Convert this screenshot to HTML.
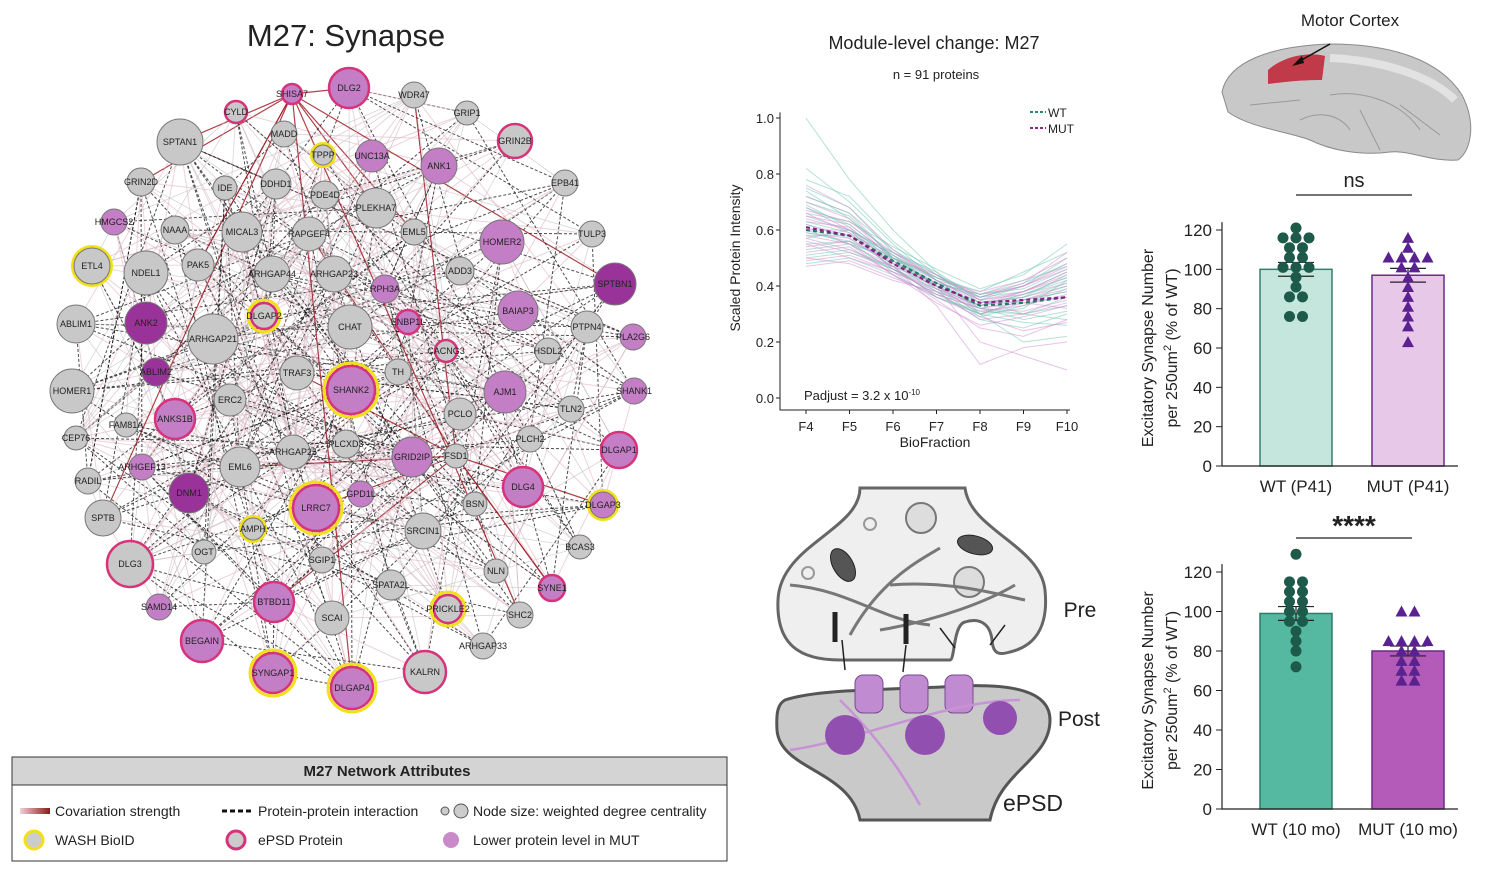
<!DOCTYPE html>
<html><head><meta charset="utf-8"><style>
html,body{margin:0;padding:0;background:#fff;}
svg{display:block;font-family:"Liberation Sans",Arial,sans-serif;}
</style></head><body>
<svg id="root" width="1511" height="869" viewBox="0 0 1511 869" xmlns="http://www.w3.org/2000/svg">
<text x="346" y="46" font-size="31" text-anchor="middle" fill="#222">M27: Synapse</text>
<g id="edges"></g>
<g id="nodes"></g>

<g>
<rect x="12" y="757" width="715" height="104" fill="#fff" stroke="#333" stroke-width="1"/>
<rect x="12" y="757" width="715" height="28" fill="#d4d4d4" stroke="#333" stroke-width="1"/>
<text x="387" y="776" font-size="15" font-weight="bold" text-anchor="middle" fill="#222">M27 Network Attributes</text>
<defs><linearGradient id="cg" x1="0" x2="1"><stop offset="0" stop-color="#f0d0d8"/><stop offset="1" stop-color="#8b1a1a"/></linearGradient></defs>
<rect x="20" y="808" width="30" height="6" fill="url(#cg)"/>
<text x="55" y="816" font-size="14" fill="#222">Covariation strength</text>
<line x1="222" y1="811" x2="252" y2="811" stroke="#111" stroke-width="3" stroke-dasharray="5,3"/>
<text x="258" y="816" font-size="14" fill="#222">Protein-protein interaction</text>
<circle cx="445" cy="811" r="4" fill="#ccc" stroke="#555"/>
<circle cx="461" cy="811" r="7" fill="#ccc" stroke="#555"/>
<text x="473" y="816" font-size="14" fill="#222">Node size: weighted degree centrality</text>
<circle cx="34" cy="840" r="9" fill="#ccc" stroke="#f2e01a" stroke-width="3"/>
<text x="55" y="845" font-size="14" fill="#222">WASH BioID</text>
<circle cx="236" cy="840" r="9" fill="#ccc" stroke="#d6337a" stroke-width="3"/>
<text x="258" y="845" font-size="14" fill="#222">ePSD Protein</text>
<circle cx="451" cy="840" r="8" fill="#c98ac9"/>
<text x="473" y="845" font-size="14" fill="#222">Lower protein level in MUT</text>
</g>

<g id="lc">
<text x="934" y="49" font-size="18" text-anchor="middle" fill="#222">Module-level change: M27</text>
<text x="936" y="79" font-size="13" text-anchor="middle" fill="#222">n = 91 proteins</text>
<text transform="translate(740,258) rotate(-90)" font-size="14" text-anchor="middle" fill="#222">Scaled Protein Intensity</text>
<text x="935" y="447" font-size="14" text-anchor="middle" fill="#222">BioFraction</text>
<text x="804" y="400" font-size="13" fill="#222">Padjust = 3.2 x 10<tspan dy="-5" font-size="8">-10</tspan></text>
<line x1="1030" y1="112" x2="1046" y2="112" stroke="#2a8a74" stroke-width="2" stroke-dasharray="3,2"/>
<text x="1048" y="117" font-size="12" fill="#222">WT</text>
<line x1="1030" y1="128" x2="1046" y2="128" stroke="#8a2a8a" stroke-width="2" stroke-dasharray="3,2"/>
<text x="1048" y="133" font-size="12" fill="#222">MUT</text>
</g>

<g>
<text x="1350" y="26" font-size="17" text-anchor="middle" fill="#222">Motor Cortex</text>
<path d="M1222,92 C1228,62 1270,46 1330,44 C1392,44 1440,60 1462,95 C1476,122 1472,150 1458,160 C1430,162 1410,150 1390,152 C1360,156 1330,150 1310,140 C1290,132 1250,128 1228,112 Z" fill="#c8c8c8" stroke="#8a8a8a"/>
<path d="M1330,95 C1360,90 1400,100 1420,130 M1360,110 L1380,150 M1300,120 C1320,110 1340,115 1350,130 M1400,105 L1440,135 M1250,105 L1300,100" fill="none" stroke="#999" stroke-width="1"/>
<path d="M1268,70 C1285,55 1310,52 1325,56 L1322,80 C1300,80 1285,82 1268,84 Z" fill="#c03a4a"/>
<path d="M1330,58 C1380,60 1430,75 1455,100" fill="none" stroke="#e2e2e2" stroke-width="8"/>
<line x1="1330" y1="44" x2="1298" y2="62" stroke="#111" stroke-width="1.5"/>
<path d="M1292,66 L1302,56 L1304,63 Z" fill="#111"/>
</g>

<g>
<path d="M860,488 C860,530 780,545 778,600 C776,645 800,660 840,660 L950,660 C955,660 953,625 965,622 C978,618 990,622 992,640 C993,655 1000,655 1010,652 C1040,645 1048,620 1045,590 C1040,545 970,530 965,488 Z" fill="#efefef" stroke="#666" stroke-width="3"/>
<path d="M785,700 C820,688 900,690 960,686 C1010,684 1050,690 1050,720 C1050,760 1000,770 990,820 L860,820 C850,770 780,770 777,730 C776,712 778,704 785,700 Z" fill="#c9c9ca" stroke="#555" stroke-width="3"/>
<circle cx="870" cy="524" r="6" fill="none" stroke="#999" stroke-width="2"/>
<circle cx="808" cy="573" r="6" fill="none" stroke="#999" stroke-width="2"/>
<circle cx="921" cy="518" r="15" fill="#ddd" stroke="#777" stroke-width="2"/>
<circle cx="969" cy="582" r="15" fill="#ddd" stroke="#777" stroke-width="2"/>
<ellipse cx="843" cy="565" rx="10" ry="18" transform="rotate(-30 843 565)" fill="#555" stroke="#222"/>
<ellipse cx="975" cy="545" rx="18" ry="9" transform="rotate(15 975 545)" fill="#555" stroke="#222"/>
<path d="M790,585 C850,590 880,620 930,625 M850,635 C880,580 920,560 940,548 M890,585 C950,580 1000,595 1025,600 M880,630 C940,620 990,600 1015,585" fill="none" stroke="#777" stroke-width="3"/>
<path d="M835,612 l0,30 M906,614 l0,30" stroke="#222" stroke-width="5"/>
<path d="M842,640 l3,30 M906,645 l-3,27 M940,628 l15,20 M1005,625 l-15,20" stroke="#222" stroke-width="1.5"/>
<g fill="#c08bd0" stroke="#7a4a90"><rect x="855" y="675" width="28" height="38" rx="8"/><rect x="900" y="675" width="28" height="38" rx="8"/><rect x="945" y="675" width="28" height="38" rx="8"/></g>
<path d="M790,750 C860,740 950,700 1020,700 M840,700 C880,740 900,770 920,805" fill="none" stroke="#c892d6" stroke-width="2.5"/>
<g fill="#9150b0"><circle cx="845" cy="735" r="20"/><circle cx="925" cy="735" r="20"/><circle cx="1000" cy="718" r="17"/></g>
<text x="1080" y="617" font-size="21" text-anchor="middle" fill="#222">Pre</text>
<text x="1079" y="726" font-size="21" text-anchor="middle" fill="#222">Post</text>
<text x="1033" y="811" font-size="23" text-anchor="middle" fill="#222">ePSD</text>
</g>

<g id="bars"></g>
</svg>
<script>
const nodeNames=["SHISA7","DLG2","WDR47","CYLD","GRIP1","MADD","SPTAN1","TPPP","UNC13A","GRIN2B","ANK1","GRIN2D","IDE","DDHD1","PDE4D","EPB41","PLEKHA7","HMGCS2","NAAA","MICAL3","RAPGEF4","EML5","TULP3","HOMER2","ETL4","NDEL1","PAK5","ARHGAP44","ARHGAP23","ADD3","SPTBN1","RPH3A","ABLIM1","ANK2","DLGAP2","CHAT","BAIAP3","PTPN4","ENBP1L","PLA2G6","ARHGAP21","CACNG3","HSDL2","ABLIM2","HOMER1","TRAF3","TH","SHANK2","AJM1","SHANK1","ERC2","ANKS1B","TLN2","FAM81A","PCLO","CEP76","PLCXD3","PLCH2","ARHGAP25","DLGAP1","GRID2IP","FSD1","ARHGEF13","EML6","RADIL","GPD1L","DNM1","DLG4","BSN","LRRC7","DLGAP3","SPTB","AMPH","SRCIN1","BCAS3","OGT","DLG3","SGIP1","NLN","SYNE1","SPATA2L","SAMD14","PRICKLE2","BTBD11","SHC2","SCAI","BEGAIN","ARHGAP33","SYNGAP1","KALRN","DLGAP4"];
const nodeX=[292,349,414,236,467,284,180,323,372,515,439,141,225,276,325,565,376,114,175,242,309,414,592,502,92,146,198,272,334,460,615,385,76,146,264,350,518,587,408,633,213,446,548,156,72,297,398,351,505,634,230,175,571,126,460,76,346,530,293,619,412,456,142,240,88,361,189,523,475,316,603,103,253,423,580,204,130,322,496,552,391,159,448,274,520,332,202,483,273,425,352];
const nodeY=[94,88,95,112,113,134,142,155,156,141,166,182,188,184,195,183,208,222,230,232,234,232,234,242,266,273,265,274,274,271,284,289,324,323,316,327,311,327,322,337,339,351,351,372,391,373,372,390,392,391,400,419,409,425,414,438,444,439,452,450,457,456,467,467,481,494,493,487,504,508,505,518,529,531,547,552,564,560,571,588,585,607,609,602,615,618,641,646,673,672,688];
const nodeR=[10,20,13,11,12,13,23,10,16,17,18,14,12,15,14,13,20,13,14,20,17,13,13,22,18,22,16,18,18,14,21,14,19,21,13,22,20,16,12,13,25,11,13,14,22,17,13,24,21,13,16,20,13,12,16,12,14,13,17,18,20,12,13,20,13,13,20,20,12,23,13,18,11,18,12,12,23,13,12,13,15,13,14,20,13,17,21,13,20,21,21];
const fixFill={SHISA7:"p",DLG2:"p",UNC13A:"p",ANK1:"p",HMGCS2:"p",HOMER2:"p",SPTBN1:"d",RPH3A:"p",ANK2:"d",BAIAP3:"p",ENBP1L:"p",PLA2G6:"p",ABLIM2:"d",SHANK2:"p",AJM1:"p",SHANK1:"p",ANKS1B:"p",DLGAP1:"p",GRID2IP:"p",ARHGEF13:"p",GPD1L:"p",DNM1:"d",DLG4:"p",LRRC7:"p",DLGAP3:"p",SYNE1:"p",SAMD14:"p",BTBD11:"p",BEGAIN:"p",SYNGAP1:"p",DLGAP4:"p"};
const fixRing={SHISA7:"k",DLG2:"k",CYLD:"k",TPPP:"y",GRIN2B:"k",ETL4:"y",DLGAP2:"b",ENBP1L:"k",CACNG3:"k",SHANK2:"b",ANKS1B:"k",DLGAP1:"k",DLG4:"k",LRRC7:"b",DLGAP3:"y",AMPH:"y",DLG3:"k",SYNE1:"k",PRICKLE2:"b",BTBD11:"k",BEGAIN:"k",SYNGAP1:"b",KALRN:"k",DLGAP4:"b"};
const SVGNS="http://www.w3.org/2000/svg";
function mk(tag,attrs,parent){const e=document.createElementNS(SVGNS,tag);for(const k in attrs)e.setAttribute(k,attrs[k]);parent.appendChild(e);return e;}
const gE=document.getElementById('edges'),gN=document.getElementById('nodes');
const N=nodeNames.length;
const steps=[3,7,11,19,29,41];
for(let i=0;i<N;i++){for(let s=0;s<steps.length;s++){const j=(i*steps[s]+s*5+1)%N;if(j===i)continue;
  const t=(i+j+s)%5;let st;
  if(t<=1)st={stroke:"#111","stroke-width":1,"stroke-dasharray":"3,2",opacity:0.75};
  else if(t===2||t===3)st={stroke:"#dcb0c0","stroke-width":1,opacity:0.55};
  else st={stroke:"#bbb","stroke-width":0.8,opacity:0.6};
  if((i*j)%61===0)st={stroke:"#a0202a","stroke-width":1.2,opacity:0.85};
  const l=mk('line',Object.assign({x1:nodeX[i],y1:nodeY[i],x2:nodeX[j],y2:nodeY[j]},st),gE);
  
  
}}
const fillCol={g:"#c8c8c8",p:"#c47ec6",d:"#9a3399"};
for(let i=0;i<N;i++){
  const nm=nodeNames[i];const f=fixFill[nm]||"g";const r=fixRing[nm]||"n";
  const g=mk('g',{},gN);
  
  
  if(r==="y"||r==="b")mk('circle',{cx:nodeX[i],cy:nodeY[i],r:nodeR[i]+(r==="b"?3:1.5),fill:"none",stroke:"#f2e01a","stroke-width":3},g);
  mk('circle',{cx:nodeX[i],cy:nodeY[i],r:nodeR[i],fill:fillCol[f],stroke:(r==="k"||r==="b")?"#d6337a":"#777","stroke-width":(r==="k"||r==="b")?2.5:1},g);
  const t=mk('text',{x:nodeX[i],y:nodeY[i]+3,"font-size":9,"text-anchor":"middle",fill:"#222"},g);
  t.textContent=nm;
}
const fractions=["F4","F5","F6","F7","F8","F9","F10"];
const yTicks=[0.0,0.2,0.4,0.6,0.8,1.0];
const wtMean=[0.60,0.58,0.49,0.41,0.33,0.34,0.36];
const mutMean=[0.61,0.58,0.48,0.40,0.34,0.35,0.36];
const wtLines=[[1.0,0.78,0.6,0.45,0.3,0.32,0.42],[0.82,0.7,0.55,0.42,0.35,0.4,0.5],[0.7,0.65,0.5,0.4,0.3,0.35,0.38],[0.65,0.6,0.48,0.38,0.32,0.3,0.33],[0.6,0.55,0.5,0.43,0.36,0.38,0.45],[0.55,0.56,0.45,0.38,0.28,0.25,0.3],[0.5,0.52,0.47,0.4,0.34,0.36,0.41],[0.75,0.68,0.52,0.43,0.38,0.45,0.52],[0.58,0.58,0.52,0.45,0.35,0.3,0.28],[0.48,0.5,0.44,0.36,0.3,0.2,0.22],[0.68,0.62,0.5,0.41,0.33,0.35,0.4],[0.62,0.57,0.47,0.36,0.31,0.3,0.36],[0.72,0.66,0.53,0.44,0.37,0.42,0.47],[0.53,0.55,0.46,0.39,0.33,0.37,0.43],[0.78,0.72,0.56,0.44,0.34,0.36,0.44],[0.66,0.63,0.54,0.46,0.39,0.44,0.55],[0.57,0.6,0.51,0.42,0.32,0.28,0.31],[0.69,0.61,0.49,0.39,0.29,0.33,0.39],[0.63,0.59,0.5,0.43,0.36,0.41,0.48],[0.51,0.53,0.46,0.37,0.3,0.27,0.26],[0.74,0.64,0.51,0.4,0.33,0.37,0.42],[0.59,0.56,0.48,0.41,0.37,0.39,0.46]];
const mutLines=[[0.72,0.66,0.5,0.4,0.3,0.35,0.38],[0.6,0.6,0.46,0.4,0.2,0.15,0.1],[0.55,0.5,0.45,0.35,0.25,0.22,0.28],[0.65,0.62,0.5,0.44,0.36,0.4,0.48],[0.5,0.48,0.42,0.38,0.33,0.36,0.4],[0.58,0.55,0.47,0.33,0.12,0.18,0.2],[0.68,0.6,0.52,0.42,0.35,0.38,0.44],[0.52,0.54,0.44,0.36,0.3,0.34,0.32],[0.62,0.58,0.5,0.42,0.38,0.42,0.5],[0.56,0.52,0.46,0.38,0.28,0.3,0.34],[0.7,0.64,0.49,0.39,0.31,0.33,0.37],[0.47,0.49,0.43,0.37,0.32,0.35,0.39],[0.64,0.6,0.51,0.43,0.37,0.4,0.46],[0.59,0.57,0.48,0.4,0.32,0.31,0.35],[0.76,0.68,0.53,0.42,0.34,0.38,0.43],[0.54,0.56,0.49,0.41,0.36,0.4,0.47],[0.61,0.55,0.44,0.34,0.26,0.29,0.33],[0.67,0.63,0.52,0.44,0.35,0.37,0.41],[0.49,0.51,0.45,0.39,0.33,0.38,0.45],[0.63,0.61,0.47,0.36,0.29,0.24,0.27],[0.57,0.53,0.47,0.41,0.37,0.41,0.52],[0.66,0.59,0.46,0.37,0.32,0.34,0.36]];
const lc=document.getElementById('lc');
const lx=i=>806+i*43.5, ly=v=>398-v*280;
function poly(arr){return arr.map((v,i)=>lx(i)+","+ly(v)).join(" ");}
for(let k=0;k<Math.max(wtLines.length,mutLines.length);k++){
  if(wtLines[k]){const p=mk('polyline',{points:poly(wtLines[k]),fill:"none",stroke:"#6cc4ad","stroke-width":1,opacity:0.5},lc);
    }
  if(mutLines[k]){const p=mk('polyline',{points:poly(mutLines[k]),fill:"none",stroke:"#d08ad0","stroke-width":1,opacity:0.5},lc);
    }
}
let p=mk('polyline',{points:poly(wtMean),fill:"none",stroke:"#237a66","stroke-width":2.2,"stroke-dasharray":"4,3"},lc);

p=mk('polyline',{points:poly(mutMean),fill:"none",stroke:"#8a1f8a","stroke-width":2.2,"stroke-dasharray":"4,3"},lc);

let ax=mk('path',{d:`M780,${ly(1.02)} L780,410 L1070,410`,fill:"none",stroke:"#222","stroke-width":1},lc);

yTicks.forEach(v=>{const t=mk('text',{x:774,y:ly(v)+5,"font-size":13,"text-anchor":"end",fill:"#222"},lc);t.textContent=v.toFixed(1);
  
  mk('line',{x1:776,x2:780,y1:ly(v),y2:ly(v),stroke:"#222"},lc);});
fractions.forEach((f,i)=>{const t=mk('text',{x:lx(i),y:431,"font-size":13,"text-anchor":"middle",fill:"#222"},lc);t.textContent=f;
  
  mk('line',{x1:lx(i),x2:lx(i),y1:410,y2:414,stroke:"#222"},lc);});
const barCats1=["WT (P41)","MUT (P41)"];
const barVals1=[100,97];
const barErr1=[3.5,3.5];
const wtDots1=[121,116,116,116,111,111,106,106,101,101,101,96,91,86,86,76,76];
const mutDots1=[116,111,106,106,106,106,101,101,96,91,86,81,76,71,63];
const barCats2=["WT (10 mo)","MUT (10 mo)"];
const barVals2=[99,80];
const barErr2=[3.5,2.5];
const wtDots2=[129,115,115,110,110,105,105,100,100,95,95,90,85,80,72];
const mutDots2=[100,100,85,85,85,85,80,80,75,75,70,70,65,65];
const barTicks=[0,20,40,60,80,100,120];
const gB=document.getElementById('bars');
function barChart(y0,yTop,cats,vals,errs,dA,dB,fills,strokes,dotCols,sig,sigBold,sigY,nm){
  const g=mk('g',{},gB);
  
  
  const ys=v=>y0-v*(y0-yTop)/120;
  const cx=[1296,1408];
  vals.forEach((v,i)=>{const r=mk('rect',{x:cx[i]-36,y:ys(v),width:72,height:y0-ys(v),fill:fills[i],stroke:strokes[i],"stroke-width":1.5},g);
    
    mk('path',{d:`M${cx[i]},${ys(v+errs[i])} L${cx[i]},${ys(v-errs[i])} M${cx[i]-18},${ys(v+errs[i])} L${cx[i]+18},${ys(v+errs[i])} M${cx[i]-18},${ys(v-errs[i])} L${cx[i]+18},${ys(v-errs[i])}`,stroke:"#222","stroke-width":1.2,fill:"none"},g);
    const l=mk('text',{x:cx[i],y:y0+26,"font-size":17,"text-anchor":"middle",fill:"#222"},g);l.textContent=cats[i];
    });
  [dA,dB].forEach((arr,gi)=>{const counts={};arr.forEach(v=>{counts[v]=(counts[v]||0)+1;});const seen={};
    arr.forEach(v=>{seen[v]=(seen[v]||0)+1;const n=counts[v],k=seen[v]-1;const x=cx[gi]+(k-(n-1)/2)*13;const y=ys(v);let d;
      if(gi===0)d=mk('circle',{cx:x,cy:y,r:5.5,fill:dotCols[0]},g);
      else d=mk('path',{d:`M${x},${y-6} L${x+6},${y+5} L${x-6},${y+5} Z`,fill:dotCols[1]},g);
      });});
  const a=mk('path',{d:`M1222,${ys(124)} L1222,${y0} L1458,${y0}`,fill:"none",stroke:"#222","stroke-width":1.2},g);
  
  barTicks.forEach(v=>{mk('line',{x1:1216,x2:1222,y1:ys(v),y2:ys(v),stroke:"#222"},g);
    const t=mk('text',{x:1212,y:ys(v)+6,"font-size":17,"text-anchor":"end",fill:"#222"},g);t.textContent=v;
    });
  const yc=(y0+yTop)/2;
  const t1=mk('text',{transform:`translate(1153,${yc}) rotate(-90)`,"font-size":16,"text-anchor":"middle",fill:"#222"},g);t1.textContent="Excitatory Synapse Number";
  
  const t2=mk('text',{transform:`translate(1177,${yc}) rotate(-90)`,"font-size":16,"text-anchor":"middle",fill:"#222"},g);
  t2.innerHTML='per 250um<tspan dy="-6" font-size="11">2</tspan><tspan dy="6"> (% of WT)</tspan>';
  
  mk('line',{x1:1296,x2:1412,y1:sigY,y2:sigY,stroke:"#222","stroke-width":1.2},g);
  const s=mk('text',{x:1354,y:sigY-(sigBold?3:8),"font-size":sigBold?28:20,"font-weight":sigBold?"bold":"normal","text-anchor":"middle",fill:"#222"},g);s.textContent=sig;
  
}
barChart(466,230,barCats1,barVals1,barErr1,wtDots1,mutDots1,["#c4e6dd","#e8c8e8"],["#3a7d6c","#6c2a8a"],["#1e5a4a","#5a2290"],"ns",false,195,'bar-chart-p41');
barChart(809,572,barCats2,barVals2,barErr2,wtDots2,mutDots2,["#55b9a2","#b45ab8"],["#2e7c6a","#6c2a8a"],["#1e5a4a","#5a2290"],"****",true,538,'bar-chart-10mo');
</script>
</body></html>
